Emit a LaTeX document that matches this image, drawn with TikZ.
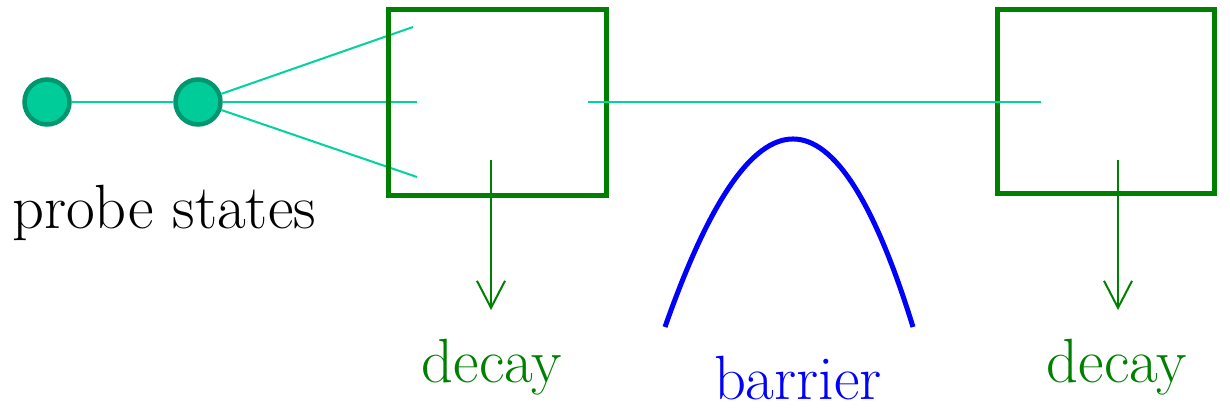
\documentclass[tikz,border=0pt]{standalone}
\usetikzlibrary{arrows.meta}
\definecolor{tealfill}{RGB}{0,204,153}
\definecolor{tealdraw}{RGB}{0,150,110}
\definecolor{tealline}{RGB}{0,210,160}
\definecolor{dgreen}{RGB}{0,128,0}
\begin{document}
\begin{tikzpicture}[x=1pt,y=-1pt,
  state/.style={circle,fill=tealfill,draw=tealdraw,line width=4.5pt,minimum size=45pt,inner sep=0pt},
  probe/.style={tealline,line width=2pt},
  boxnode/.style={draw=dgreen,line width=5pt,inner sep=0pt},
  decayarrow/.style={dgreen,line width=2pt,-{Straight Barb[length=27pt,width=28pt,line width=2pt]}},
  lbl/.style={font=\fontsize{62.5}{70}\selectfont,anchor=base,inner sep=0pt}]
\useasboundingbox (0,0) rectangle (1230,411);
\coordinate (e1) at (413,27);
\coordinate (e2) at (417,102);
\coordinate (e3) at (417,177);
\coordinate (m1) at (588,102);
\coordinate (m2) at (1041,102);
\node[state] (s1) at (47,102) {};
\node[state] (s2) at (198,102) {};
\draw[probe] (s1) -- (s2);
\draw[probe] (s2) -- (e1);
\draw[probe] (s2) -- (e2);
\draw[probe] (s2) -- (e3);
\node[boxnode,minimum width=218pt,minimum height=186pt] (b1) at (497,103) {};
\node[boxnode,minimum width=217pt,minimum height=184pt] (b2) at (1105.5,102) {};
\draw[probe] (m1) -- (m2);
\coordinate (a1s) at (491,160);
\coordinate (a1e) at (491,310);
\coordinate (a2s) at (1118,160);
\coordinate (a2e) at (1118,310);
\draw[decayarrow] (a1s) -- (a1e);
\draw[decayarrow] (a2s) -- (a2e);
\draw[blue,line width=5pt] (665,327) .. controls (753,76.3) and (835.7,76.3) .. (913,327);
\node[lbl] (ps) at (164,229) {probe states};
\node[lbl,text=dgreen] (d1) at (492,382) {decay};
\node[lbl,text=dgreen] (d2) at (1117,382) {decay};
\node[lbl,text=blue] (bar) at (798,399) {barrier};
\end{tikzpicture}
\end{document}
